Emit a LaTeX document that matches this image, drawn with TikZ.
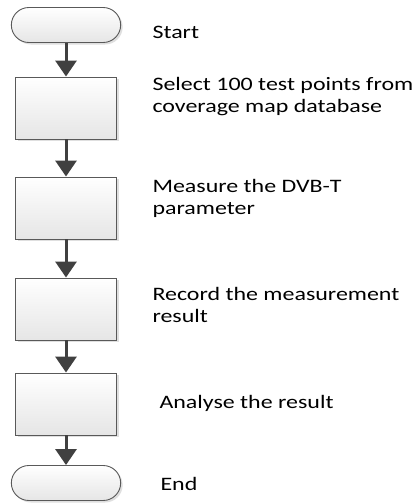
\documentclass[tikz,border=0pt]{standalone}
\usepackage{fontspec}
\setmainfont{Carlito}[FakeStretch=1.26]
\usepackage{tikz}
\usetikzlibrary{shapes.misc,shadows,arrows.meta}

\tikzset{
    stepbox/.style={draw=black!65, line width=0.9pt, rectangle, minimum width=101pt, minimum height=62pt,
        top color=white, bottom color=black!10,
        drop shadow={shadow xshift=2pt, shadow yshift=-2pt, fill=black!25}},
    termbox/.style={draw=black!65, line width=0.9pt, rounded rectangle, minimum width=116pt, minimum height=35pt,
        top color=white, bottom color=black!10,
        drop shadow={shadow xshift=2pt, shadow yshift=-2pt, fill=black!25}},
    flow/.style={line width=3pt, draw=black!75, -{Triangle[length=16pt,width=21pt]}},
    label/.style={anchor=west, align=left, font=\fontsize{19}{22}\selectfont}
}

\begin{document}
\begin{tikzpicture}[x=1pt,y=-1pt]
        \useasboundingbox (0,0) rectangle (414,504);

        % Flow
        \node[termbox] (start) at (66,25) {};
        \node[stepbox] (s1) at (66,108) {};
        \node[stepbox] (s2) at (66,208) {};
        \node[stepbox] (s3) at (66,309) {};
        \node[stepbox] (s4) at (66,404) {};
        \node[termbox] (end) at (66,483) {};
        \draw[flow] (start) -- (s1);
        \draw[flow] (s1) -- (s2);
        \draw[flow] (s2) -- (s3);
        \draw[flow] (s3) -- (s4);
        \draw[flow] (s4) -- (end);

        % Labels
        \node[label] (tstart) at (149,32) {Start};
        \node[label] (t1) at (149,97) {Select 100 test points from\\coverage map database};
        \node[label] (t2) at (149,198) {Measure the DVB-T\\parameter};
        \node[label] (t3) at (149,305) {Record the measurement\\result};
        \node[label] (t4) at (156,403) {Analyse the result};
        \node[label] (tend) at (157,484) {End};
    \end{tikzpicture}
\end{document}
